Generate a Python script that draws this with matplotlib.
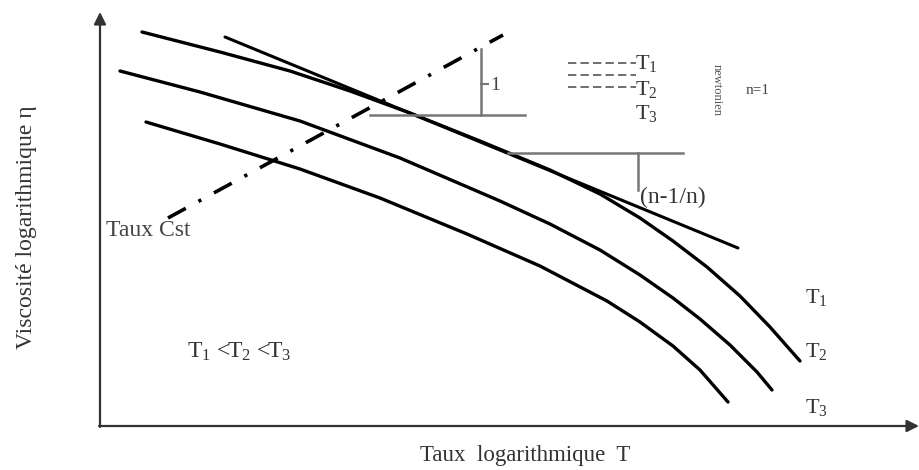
import matplotlib
matplotlib.use("Agg")
import matplotlib.pyplot as plt

plt.rcParams['mathtext.fontset'] = 'custom'
plt.rcParams['mathtext.rm'] = 'Liberation Serif'
plt.rcParams['mathtext.it'] = 'Liberation Serif:italic'
plt.rcParams['font.family'] = ['Liberation Serif', 'DejaVu Serif']

# ---- data (schematic coordinates, y grows downward) ----
t1_x = [142, 220, 290, 350, 410, 480, 550, 600, 640, 673, 707, 740, 770, 800]
t1_y = [32, 52, 71, 91, 113, 141, 170, 194, 218, 241, 267, 296, 327, 361]

t2_x = [120, 200, 300, 400, 500, 550, 600, 640, 673, 700, 730, 757, 772]
t2_y = [71, 92, 121, 158, 201, 224, 250, 275, 298, 319, 345, 372, 390]

t3_x = [146, 220, 300, 380, 467, 540, 607, 640, 673, 700, 728]
t3_y = [122, 144, 169, 198, 234, 266, 301, 322, 346, 370, 402]

tangent_x = [225, 738]
tangent_y = [37, 248]

cst_x = [168, 503]
cst_y = [218, 35]

slope1_h_x = [370, 525]
slope1_h_y = [115, 115]
slope1_v_x = [481, 481]
slope1_v_y = [49, 115]

slope2_h_x = [508, 683]
slope2_h_y = [153, 153]
slope2_v_x = [638, 638]
slope2_v_y = [153, 190]

legend_rows_y = [63, 75, 87]
legend_x = [568, 636]

curve_labels = [r'T$_1$', r'T$_2$', r'T$_3$']

fig = plt.figure(figsize=(9.2, 4.7), dpi=100)
ax = fig.add_axes([0, 0, 1, 1])
ax.set_xlim(0, 920)
ax.set_ylim(470, 0)
ax.axis('off')

# axes with arrows
axis_col = '#333333'
ax.annotate('', xy=(100, 12), xytext=(100, 427),
            arrowprops=dict(arrowstyle='-|>', color=axis_col, lw=1.6,
                            mutation_scale=18, shrinkA=0, shrinkB=0))
ax.annotate('', xy=(919, 426), xytext=(99, 426),
            arrowprops=dict(arrowstyle='-|>', color=axis_col, lw=1.6,
                            mutation_scale=18, shrinkA=0, shrinkB=0))

# curves
for xs, ys in [(t1_x, t1_y), (t2_x, t2_y), (t3_x, t3_y)]:
    ax.plot(xs, ys, color='black', lw=2.4, solid_capstyle='round', solid_joinstyle='round')
ax.plot(tangent_x, tangent_y, color='black', lw=2.2, solid_capstyle='round')

# constant-rate dash-dot line
ax.plot(cst_x, cst_y, color='black', lw=2.6, linestyle=(0, (5.6, 4.0, 0.9, 4.0)))

# slope construction lines
g = '#777777'
ax.plot(slope1_h_x, slope1_h_y, color=g, lw=1.8)
ax.plot(slope1_v_x, slope1_v_y, color=g, lw=1.8)
ax.plot([481, 488], [84, 84], color=g, lw=1.5)
ax.text(490, 85, '1', fontsize=14, color='#444444', va='center', ha='left')
ax.plot(slope2_h_x, slope2_h_y, color=g, lw=1.8)
ax.plot(slope2_v_x, slope2_v_y, color=g, lw=1.8)
ax.text(640, 197, '(n-1/n)', fontsize=17, color='#333333', va='center', ha='left')

# legend block top right
for yy in legend_rows_y:
    ax.plot(legend_x, [yy, yy], color='#555555', lw=1.2, linestyle=(0, (5, 2.5)))
ax.text(635, 64, curve_labels[0], fontsize=16, color='#333333', va='center', ha='left')
ax.text(635, 89, curve_labels[1], fontsize=16, color='#333333', va='center', ha='left')
ax.text(635, 113, curve_labels[2], fontsize=16, color='#333333', va='center', ha='left')
ax.text(717, 90, 'newtonien', fontsize=9, color='#555555', rotation=270,
        va='center', ha='center')
ax.text(758, 90, 'n=1', fontsize=11, color='#444444', va='center', ha='center')

# curve end labels
ax.text(805, 298, curve_labels[0], fontsize=16, color='#333333', va='center', ha='left')
ax.text(805, 351, curve_labels[1], fontsize=16, color='#333333', va='center', ha='left')
ax.text(805, 407, curve_labels[2], fontsize=16, color='#333333', va='center', ha='left')

ax.text(106, 230, 'Taux Cst', fontsize=17, color='#444444', va='center', ha='left')
ax.text(187, 352, r'T$_1$ <T$_2$ <T$_3$', fontsize=17, color='#333333', va='center', ha='left')

# axis titles
ax.text(525, 455, 'Taux  logarithmique  T', fontsize=16.5, color='#333333',
        va='center', ha='center')
ax.text(27, 227, 'Viscosité logarithmique η', fontsize=17, color='#333333',
        rotation=90, va='center', ha='center')

fig.savefig('out.png', dpi=100)
